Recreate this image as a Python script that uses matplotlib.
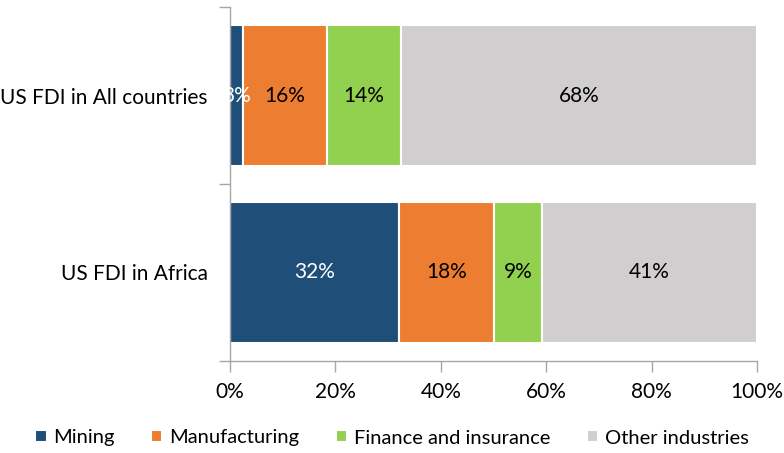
import matplotlib
matplotlib.use("Agg")
import matplotlib.pyplot as plt
from matplotlib.ticker import FixedLocator, PercentFormatter

plt.rcParams['font.family'] = ['Lato', 'DejaVu Sans']

categories = ["US FDI in Africa", "US FDI in All countries"]
series_names = ["Mining", "Manufacturing", "Finance and insurance", "Other industries"]
mining = [32.1, 2.5]
manufacturing = [18.0, 15.9]
finance = [9.1, 14.0]
other = [40.8, 67.6]
labels_text = [["32%", "3%"], ["18%", "16%"], ["9%", "14%"], ["41%", "68%"]]
colors = ["#1F4E79", "#ED7D31", "#92D050", "#D0CECE"]
text_colors = ["white", "black", "black", "black"]
xticks = [0, 20, 40, 60, 80, 100]

fig = plt.figure(figsize=(7.84, 4.53), dpi=100)
ax = fig.add_axes([230/784, 1-361/453, 527/784, 354/453])

ypos = list(range(len(categories)))
left = [0.0] * len(categories)
for i, (name, vals) in enumerate(zip(series_names, [mining, manufacturing, finance, other])):
    bars = ax.barh(ypos, vals, left=left, height=0.8, color=colors[i],
                   edgecolor="white", linewidth=1.5, label=name)
    for j, b in enumerate(bars):
        ax.text(left[j] + vals[j] / 2, ypos[j], labels_text[i][j], ha="center", va="center",
                color=text_colors[i], fontsize=15)
    left = [l + v for l, v in zip(left, vals)]

ax.set_xlim(0, 100)
ax.set_ylim(-0.5, 1.5)
ax.set_xticks(xticks)
ax.xaxis.set_major_formatter(PercentFormatter(decimals=0))
ax.set_yticks(ypos)
ax.set_yticklabels(categories)
ax.yaxis.set_minor_locator(FixedLocator([-0.5, 0.5, 1.5]))
ax.tick_params(axis="y", which="major", length=0, pad=16, labelsize=15)
ax.tick_params(axis="y", which="minor", length=8, color="#A6A6A6", width=1)
ax.tick_params(axis="x", which="major", length=8, color="#A6A6A6", width=1, labelsize=15, pad=7)
for s in ["top", "right"]:
    ax.spines[s].set_visible(False)
for s in ["left", "bottom"]:
    ax.spines[s].set_color("#A6A6A6")
    ax.spines[s].set_linewidth(1)

handles, lbls = ax.get_legend_handles_labels()
fig.legend(handles, lbls, loc="center", bbox_to_anchor=(0.5, 1-438/453), ncol=4,
           frameon=False, fontsize=14.5, handlelength=0.55, handleheight=0.55,
           handletextpad=0.35, columnspacing=1.8)

fig.savefig("out.png", dpi=100)
